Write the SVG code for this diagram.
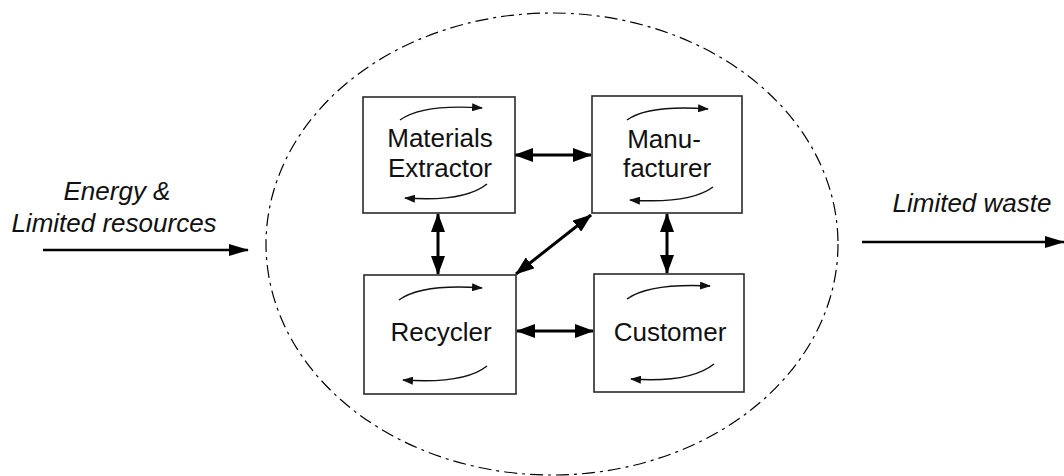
<svg xmlns="http://www.w3.org/2000/svg" width="1064" height="476" viewBox="0 0 1064 476">
<defs>
<style>
.box{fill:#fff;stroke:#2a2a2a;stroke-width:1.6}
.lbl{font-family:"Liberation Sans",Arial,sans-serif;font-size:26px;fill:#111;text-anchor:middle}
.side{font-family:"Liberation Sans",Arial,sans-serif;font-size:26px;font-style:italic;fill:#111;text-anchor:middle}
.cyc{fill:none;stroke:#111;stroke-width:1.5;marker-end:url(#sm)}
.con{fill:none;stroke:#000;stroke-width:3;marker-start:url(#bs);marker-end:url(#be)}
.io{fill:none;stroke:#000;stroke-width:2.6;marker-end:url(#be2)}
</style>
<marker id="sm" viewBox="0 0 11 8" refX="10" refY="4" markerWidth="11" markerHeight="8" markerUnits="userSpaceOnUse" orient="auto"><path d="M0,0 L11,4 L0,8 Z" fill="#111"/></marker>
<marker id="be" viewBox="0 0 19 14" refX="18" refY="7" markerWidth="19" markerHeight="14" markerUnits="userSpaceOnUse" orient="auto"><path d="M0,0 L19,7 L0,14 Z" fill="#000"/></marker>
<marker id="bs" viewBox="0 0 19 14" refX="1" refY="7" markerWidth="19" markerHeight="14" markerUnits="userSpaceOnUse" orient="auto"><path d="M19,0 L0,7 L19,14 Z" fill="#000"/></marker>
<marker id="be2" viewBox="0 0 20 12" refX="19" refY="6" markerWidth="20" markerHeight="12" markerUnits="userSpaceOnUse" orient="auto"><path d="M0,0 L20,6 L0,12 Z" fill="#000"/></marker>
</defs>
<rect width="1064" height="476" fill="#fff"/>
<ellipse id="boundary" cx="552" cy="244" rx="286" ry="231" fill="none" stroke="#000" stroke-width="1.2" stroke-dasharray="13,5,3,5"/>

<g id="connectors">
<line class="con" x1="515" y1="155" x2="591" y2="155"/>
<line class="con" x1="438" y1="214" x2="438" y2="274"/>
<line class="con" x1="667" y1="214" x2="667" y2="273"/>
<line class="con" x1="517" y1="331" x2="593" y2="331"/>
<line class="con" x1="516" y1="274" x2="591" y2="215"/>
<line class="io" x1="43" y1="250" x2="248" y2="250"/>
<line class="io" x1="862" y1="242" x2="1064" y2="242"/>
</g>

<g id="input-label">
<text class="side" x="117" y="200">Energy &amp;</text>
<text class="side" x="114" y="232">Limited resources</text>
</g>
<g id="output-label">
<text class="side" x="972" y="212">Limited waste</text>
</g>

<g id="materials-extractor">
<rect class="box" x="363" y="97" width="152" height="116"/>
<path class="cyc" d="M400,120 C414,110 440,105 482,108"/>
<path class="cyc" d="M487,184 C472,196 446,201 405,198"/>
<text class="lbl" x="440" y="147">Materials</text>
<text class="lbl" x="440" y="177">Extractor</text>
</g>

<g id="manufacturer">
<rect class="box" x="592" y="96" width="150" height="117"/>
<path class="cyc" d="M627,120 C641,110 666,106 708,109"/>
<path class="cyc" d="M713,187 C698,198 672,203 630,200"/>
<text class="lbl" x="664" y="148">Manu-</text>
<text class="lbl" x="667" y="177">facturer</text>
</g>

<g id="recycler">
<rect class="box" x="364" y="275" width="152" height="119"/>
<path class="cyc" d="M399,300 C413,290 440,285 482,288"/>
<path class="cyc" d="M487,366 C472,378 446,383 403,380"/>
<text class="lbl" x="441" y="341">Recycler</text>
</g>

<g id="customer">
<rect class="box" x="594" y="274" width="150" height="118"/>
<path class="cyc" d="M627,299 C641,289 668,284 710,286"/>
<path class="cyc" d="M714,364 C699,376 673,382 631,379"/>
<text class="lbl" x="670" y="341">Customer</text>
</g>
</svg>
